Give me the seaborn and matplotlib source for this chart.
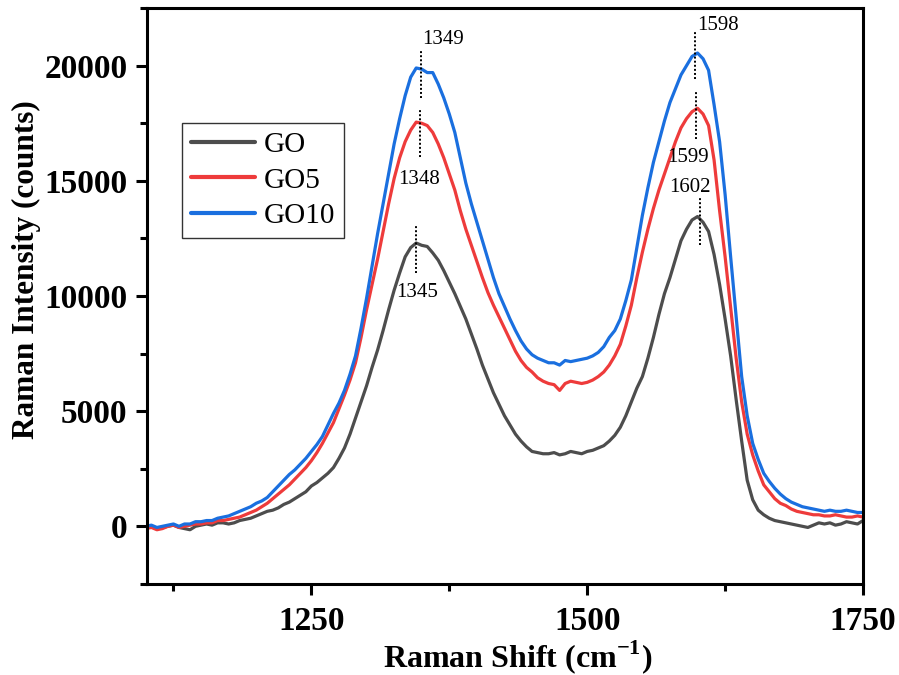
import pandas as pd
import matplotlib
matplotlib.use("Agg")
import matplotlib.pyplot as plt
import seaborn as sns
from matplotlib.ticker import MultipleLocator

sns.set_style("ticks")
plt.rcParams['font.family'] = ['Liberation Serif', 'DejaVu Serif']
plt.rcParams['mathtext.fontset'] = 'custom'
plt.rcParams['mathtext.rm'] = 'Liberation Serif'
plt.rcParams['mathtext.bf'] = 'Liberation Serif:bold'
plt.rcParams['text.color'] = 'black'
plt.rcParams['axes.labelcolor'] = 'black'
plt.rcParams['xtick.color'] = 'black'
plt.rcParams['ytick.color'] = 'black'
plt.rcParams['axes.edgecolor'] = 'black'

# Raman shift grid (cm-1), every 5 cm-1
shift = list(range(1100, 1751, 5))

go = [-50, 0, -100, -50, 0, 50, -50, -100, -150, 0,
      50, 100, 50, 150, 150, 100, 150, 250, 300, 350,
      450, 550, 650, 700, 800, 950, 1050, 1200, 1350, 1500,
      1750, 1900, 2100, 2300, 2550, 2950, 3400, 4000, 4700, 5400,
      6100, 6900, 7650, 8500, 9400, 10250, 11000, 11700, 12100, 12300,
      12200, 12150, 11870, 11550, 11100, 10600, 10100, 9550, 9000, 8350,
      7700, 7000, 6400, 5800, 5300, 4800, 4400, 4000, 3700, 3450,
      3250, 3200, 3150, 3150, 3200, 3100, 3150, 3250, 3200, 3150,
      3250, 3300, 3400, 3500, 3700, 3950, 4300, 4800, 5400, 6000,
      6500, 7300, 8200, 9200, 10100, 10800, 11600, 12400, 12900, 13300,
      13450, 13200, 12800, 11800, 10500, 9000, 7400, 5500, 3700, 2000,
      1150, 700, 500, 350, 250, 200, 150, 100, 50, 0,
      -50, 50, 150, 100, 150, 50, 100, 200, 150, 100,
      250]

go5 = [-100, -50, -150, -100, 0, 50, -50, 0, 50, 100,
       100, 150, 150, 250, 250, 300, 350, 400, 500, 600,
       700, 850, 1000, 1200, 1400, 1600, 1800, 2050, 2300, 2550,
       2850, 3200, 3600, 4050, 4500, 5100, 5700, 6350, 7100, 8200,
       9400, 10500, 11600, 12800, 14000, 15100, 16000, 16700, 17200, 17550,
       17500, 17400, 17100, 16600, 16000, 15300, 14600, 13700, 12900, 12200,
       11500, 10800, 10150, 9600, 9100, 8600, 8100, 7600, 7200, 6900,
       6700, 6450, 6300, 6200, 6150, 5900, 6200, 6300, 6250, 6200,
       6250, 6350, 6500, 6700, 7000, 7400, 7900, 8700, 9600, 10800,
       11900, 12900, 13800, 14600, 15300, 16000, 16700, 17300, 17700, 18000,
       18150, 17900, 17400, 15900, 13700, 11700, 9500, 7300, 5400, 4000,
       3100, 2400, 1800, 1500, 1200, 1000, 900, 750, 650, 600,
       550, 500, 500, 450, 450, 500, 450, 400, 400, 450,
       400]

go10 = [0, 50, -50, 0, 50, 100, 0, 100, 100, 200,
        200, 250, 250, 350, 400, 450, 550, 650, 750, 850,
        1000, 1100, 1250, 1500, 1750, 2000, 2250, 2450, 2700, 2950,
        3250, 3550, 3900, 4400, 4900, 5350, 5900, 6600, 7400, 8600,
        9900, 11300, 12700, 14000, 15300, 16600, 17700, 18700, 19500, 19900,
        19850, 19700, 19700, 19200, 18600, 17900, 17100, 16000, 14900, 14000,
        13200, 12400, 11600, 10800, 10100, 9550, 9000, 8500, 8050, 7700,
        7450, 7300, 7200, 7100, 7100, 7000, 7200, 7150, 7200, 7250,
        7300, 7400, 7550, 7800, 8200, 8500, 9000, 9800, 10700, 12100,
        13500, 14700, 15800, 16700, 17600, 18400, 19000, 19600, 20000, 20400,
        20550, 20300, 19800, 18300, 16700, 14400, 11700, 9100, 6500, 4800,
        3600, 2900, 2300, 1950, 1650, 1400, 1200, 1050, 950, 850,
        800, 750, 700, 650, 700, 650, 650, 700, 650, 600,
        600]

labels = ['GO', 'GO5', 'GO10']
colors = ['#4D4D4D', '#EE3B3B', '#1A6FDF']

# peak labels: (position, line bottom, line top, text x, text y, ha)
peaks = [
    (1349, 18600, 20700, 1350, 21150, 'left'),
    (1348, 16050, 18150, 1348, 15050, 'center'),
    (1345, 11000, 13100, 1346, 10150, 'center'),
    (1598, 19400, 21500, 1600, 21750, 'left'),
    (1599, 16800, 18850, 1591, 16000, 'center'),
    (1602, 12200, 14300, 1593, 14700, 'center'),
]

df = pd.DataFrame({
    'shift': shift * 3,
    'intensity': go + go5 + go10,
    'sample': ['GO'] * len(shift) + ['GO5'] * len(shift) + ['GO10'] * len(shift),
})

fig = plt.figure(figsize=(8.99, 6.75), dpi=100)
ax = fig.add_axes([0.1635, 0.135, 0.7965, 0.853])

sns.lineplot(data=df, x='shift', y='intensity', hue='sample', hue_order=labels,
             palette=colors, linewidth=2.3, ax=ax)

for pos, y0, y1, tx, ty, ha in peaks:
    ax.plot([pos, pos], [y0, y1], color='black', linestyle=(0, (1, 1.1)), linewidth=1.4)
    ax.text(tx, ty, str(pos), fontsize=15, ha=ha, va='center')

ax.set_xlim(1101, 1750)
ax.set_ylim(-2500, 22500)
ax.xaxis.set_major_locator(MultipleLocator(250))
ax.xaxis.set_minor_locator(MultipleLocator(125))
ax.yaxis.set_major_locator(MultipleLocator(5000))
ax.yaxis.set_minor_locator(MultipleLocator(2500))
ax.tick_params(which='major', length=8, width=2.2, labelsize=24, direction='out')
ax.tick_params(axis='x', which='major', pad=8)
ax.tick_params(axis='y', which='major', pad=6)
ax.tick_params(which='minor', length=5, width=2.2, direction='out')
for lab in ax.get_xticklabels() + ax.get_yticklabels():
    lab.set_fontweight('bold')
for side in ['left', 'right', 'top', 'bottom']:
    ax.spines[side].set_visible(True)
    ax.spines[side].set_linewidth(2.2)

ax.set_xlabel('Raman Shift (cm$^{\\mathbf{-1}}$)', fontsize=23, fontweight='bold')
ax.set_ylabel('Raman Intensity (counts)', fontsize=22.5, fontweight='bold')
ax.xaxis.set_label_coords(0.518, -0.095)
ax.yaxis.set_label_coords(-0.148, 0.545)

leg = ax.legend(loc='upper left', bbox_to_anchor=(0.049, 0.80), fontsize=21,
                frameon=True, fancybox=False, edgecolor='black', handlelength=2.2,
                borderpad=0.3, labelspacing=0.3, handletextpad=0.3, borderaxespad=0)
leg.get_frame().set_linewidth(1.0)
for line in leg.get_lines():
    line.set_linewidth(3)

fig.savefig('out.png', dpi=100)
